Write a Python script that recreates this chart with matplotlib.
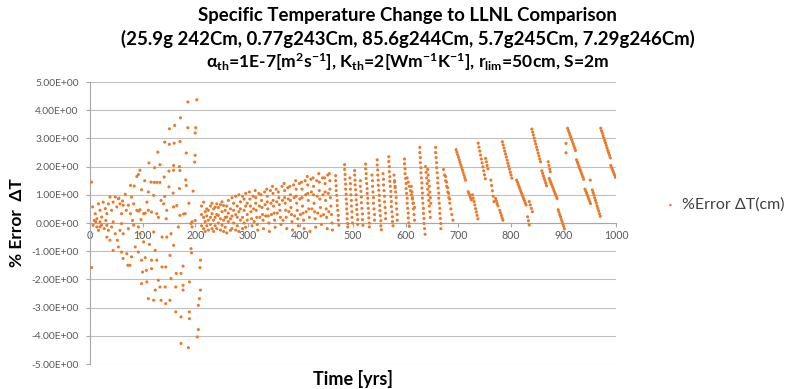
import matplotlib
matplotlib.use("Agg")
import matplotlib.pyplot as plt
from matplotlib.ticker import FuncFormatter, MultipleLocator
import numpy as np

# ---- data: (time [yrs], % error dT) ----

# 0-210 yrs, wide scatter
early = [
    (3, 1.45), (203, 4.37), (186, 4.29), (172, 3.73), (161, 3.46), (151, 3.34), (160, 2.83),
    (151, 2.79), (142, 2.87), (171, 2.89), (201, 3.38), (200, 3.19), (186, 3.38), (129, 2.51),
    (183, 2.48), (200, 2.40), (199, 2.16), (112, 2.13), (123, 1.96), (133, 2.07), (150, 1.84),
    (159, 1.87), (170, 2.0), (171, 1.86), (159, 2.04), (89, 1.65), (92, 1.72), (95, 1.87),
    (104, 1.5), (116, 1.45), (122, 1.44), (127, 1.44), (133, 1.44), (141, 1.63), (150, 1.28),
    (158, 1.06), (170, 1.22), (182, 1.53), (183, 1.33), (196, 1.13), (77, 1.33), (84, 1.31),
    (67, 1.02), (79, 0.92), (98, 1.18), (111, 1.1), (121, 0.98), (142, 0.94),
    (55, 0.88), (62, 0.78), (108, 0.74), (135, 0.8), (165, 0.62), (188, 0.7), (130, 0.2),
    (145, 0.15), (178, 0.32), (105, 0.35), (92, 0.42),
    (3, -1.58), (200, 0.09), (192, -0.02), (194, -0.14), (192, -0.91), (193, -1.06), (210, -1.32),
    (209, -1.58), (210, -2.38), (208, -2.68), (206, -2.92), (206, -3.78), (204, -4.04),
    (187, -4.42), (173, -4.27), (173, -3.33), (189, -3.39), (189, -3.15), (163, -3.15),
    (177, -2.38), (177, -2.21), (163, -2.27), (164, -1.79), (177, -1.53), (189, -2.09),
    (173, -1.79), (154, -1.97), (143, -2.27), (135, -2.74), (144, -2.86), (152, -2.74),
    (133, -2.27), (121, -2.74), (111, -2.68), (124, -2.38), (130, -2.03), (144, -1.56),
    (137, -1.56), (117, -1.62), (107, -1.68), (108, -2.09), (98, -2.15), (100, -1.74),
    (117, -1.32), (127, -1.32), (152, -1.15), (124, -0.97), (113, -0.76), (105, -1.23),
    (98, -1.32), (92, -1.03), (86, -0.85), (79, -1.2), (76, -1.5), (72, -1.5), (70, -1.09),
    (63, -1.26), (60, -1.03), (54, -0.85), (52, -0.61), (44, -0.97), (38, -0.61), (32, -0.5),
    (102, -0.67), (121, -0.32), (137, -0.5), (159, -0.79), (168, -0.14), (146, -0.5), (154, -0.38),
    (5, 0.57), (10, 0.33), (13, 0.15), (16, 0.68), (19, 0.45), (22, 0.21), (25, 0.74), (29, 0.51),
    (32, 0.33), (35, 0.68), (38, 0.92), (41, 0.45), (44, 0.74), (48, 0.92), (51, 0.57), (54, 0.86),
    (57, 0.68), (60, 0.33), (63, 0.63), (69, 0.45), (73, 0.63), (77, 0.33), (83, 0.68), (89, 0.45),
    (95, 0.47), (102, 0.33), (111, 0.45), (117, 0.39), (127, 0.33), (140, 0.68), (146, 0.45),
    (159, 0.57), (171, 0.27), (181, 0.33), (194, 0.04),
    (6, -0.08), (13, -0.14), (16, -0.26), (19, -0.14), (22, -0.08), (27, -0.2), (32, -0.08),
    (35, -0.26), (41, -0.14), (48, -0.38), (57, -0.26), (63, -0.38), (73, -0.2), (83, -0.08),
    (92, -0.14), (95, -0.38),
    (8, 0.09), (11, 0.04), (19, 0.04), (30, 0.09), (44, 0.04), (60, -0.02), (81, 0.09), (97, 0.12),
]

# 210-300 yrs, narrow band
middle = [
    (212, 0.3), (212, -0.1), (212, 0.6), (216, 0.74), (216, 0.2), (216, -0.2),
    (219, 0.4), (219, 0.05), (219, -0.3), (222, 0.25), (222, 0.5), (222, -0.1),
    (225, 0.45), (225, 0.1), (225, -0.25), (229, 0.2), (229, 0.6), (229, -0.05),
    (232, 0.33), (232, -0.2), (232, 0.7), (235, 0.1), (235, 0.5), (235, -0.3),
    (238, 0.56), (238, 0.2), (238, -0.1), (241, 0.68), (241, 0.3), (241, -0.2),
    (244, 0.27), (244, 0.0), (244, 0.55), (248, 0.15), (248, 0.65), (248, -0.25),
    (251, -0.08), (251, 0.4), (251, 0.75), (254, 0.62), (254, 0.1), (254, -0.3),
    (257, 0.45), (257, 0.2), (257, -0.15), (260, 0.21), (260, 0.6), (260, -0.35),
    (263, 0.8), (263, 0.05), (263, 0.35), (267, -0.26), (267, 0.5), (267, 0.15),
    (270, 0.9), (270, 0.25), (270, -0.2), (273, 0.7), (273, 0.0), (273, 0.45),
    (277, 0.95), (277, 0.3), (277, -0.25), (280, 0.6), (280, -0.1), (280, 0.2),
    (283, 1.0), (283, 0.4), (283, -0.3), (286, 0.75), (286, 0.1), (286, 0.5),
    (290, 0.95), (290, 0.2), (290, -0.2), (293, 0.85), (293, 0.45), (293, 0.0),
    (296, 1.05), (296, 0.6), (296, -0.15), (299, 0.7), (299, 0.3), (299, 0.1),
]

# 300-460 yrs, dotted columns
columns = [
    (303, 1.1), (304, 0.85), (305, 0.6), (306, 0.4), (307, 0.15), (308, -0.1),
    (314, 1.15), (315, 0.9), (315, 0.7), (316, 0.45), (317, 0.2), (318, -0.05), (319, -0.25),
    (325, 1.0), (326, 0.8), (327, 0.55), (328, 0.3), (329, 0.1), (330, -0.2),
    (336, 1.2), (337, 0.95), (337, 0.75), (338, 0.5), (339, 0.25), (340, 0.0), (341, -0.3),
    (347, 1.3), (348, 1.05), (348, 0.8), (349, 0.6), (350, 0.35), (351, 0.1), (352, -0.15),
    (358, 1.1), (359, 0.9), (360, 0.65), (361, 0.45), (362, 0.2), (363, -0.05),
    (369, 1.4), (370, 1.15), (370, 0.9), (371, 0.7), (372, 0.45), (373, 0.2), (374, -0.2),
    (380, 1.3), (381, 1.0), (381, 0.8), (382, 0.55), (383, 0.3), (384, 0.05), (385, -0.25),
    (391, 1.5), (392, 1.2), (392, 0.95), (393, 0.7), (394, 0.45), (395, 0.15), (396, -0.1),
    (402, 1.45), (403, 1.2), (403, 0.9), (404, 0.6), (405, 0.35), (406, 0.1), (407, -0.2),
    (413, 1.65), (414, 1.35), (414, 1.05), (415, 0.8), (416, 0.5), (417, 0.2), (418, -0.3),
    (424, 1.6), (425, 1.3), (425, 1.0), (426, 0.7), (427, 0.4), (428, 0.15), (429, -0.15),
    (435, 1.75), (436, 1.45), (436, 1.15), (437, 0.85), (438, 0.55), (439, 0.25), (440, -0.05),
    (446, 1.6), (447, 1.4), (447, 1.1), (448, 0.8), (449, 0.5), (450, 0.2), (451, -0.2),
    (455, 1.75), (456, 1.5), (456, 1.2), (457, 0.9), (458, 0.6), (459, 0.3), (460, 0.0), (461, -0.25),
    (310, 0.95), (311, 0.5), (312, 0.05), (321, 1.05), (322, 0.6), (323, 0.2),
    (332, 1.1), (333, 0.65), (334, 0.25), (343, 1.15), (344, 0.7), (345, 0.3),
    (354, 1.2), (355, 0.75), (356, 0.35), (365, 1.3), (366, 0.8), (367, 0.1),
    (376, 1.25), (377, 0.85), (378, 0.4), (387, 1.35), (388, 0.9), (389, 0.25),
    (398, 1.4), (399, 0.85), (400, 0.3), (409, 1.5), (410, 1.0), (411, 0.4),
    (420, 1.55), (421, 1.1), (422, 0.5), (431, 1.5), (432, 0.95), (433, 0.35),
    (442, 1.6), (443, 1.0), (444, 0.3), (452, 1.7), (453, 1.05), (454, 0.4),
]

# 465-700 yrs, steep streaks
steep = [
    (467, 1.68), (467, 1.5), (468, 1.32), (468, 1.15), (469, 0.98), (470, 0.8), (470, 0.62),
    (471, 0.45), (472, 0.27), (472, 0.1), (473, -0.08),
    (484, 2.07), (484, 1.9), (485, 1.72), (485, 1.55), (486, 1.38), (486, 1.2), (487, 1.02),
    (487, 0.85), (488, 0.68), (488, 0.5), (489, 0.33), (489, 0.15), (490, -0.02), (490, -0.14),
    (494, 1.6), (495, 1.4), (495, 1.2), (496, 1.0), (497, 0.8), (497, 0.6), (498, 0.4), (498, 0.2), (499, 0.0),
    (503, 1.86), (503, 1.7), (504, 1.52), (504, 1.35), (505, 1.18), (506, 1.0), (506, 0.82),
    (507, 0.65), (507, 0.48), (508, 0.3), (509, 0.12), (509, -0.05),
    (514, 1.5), (514, 1.3), (515, 1.12), (516, 0.92), (516, 0.72), (517, 0.52), (518, 0.32), (518, 0.12), (519, -0.08),
    (524, 2.09), (524, 1.92), (525, 1.75), (525, 1.58), (526, 1.4), (527, 1.22), (527, 1.05),
    (528, 0.88), (528, 0.7), (529, 0.52), (530, 0.35), (530, 0.18), (531, 0.0), (531, -0.14),
    (536, 1.7), (537, 1.5), (537, 1.3), (538, 1.1), (539, 0.9), (539, 0.7), (540, 0.5), (541, 0.3), (541, 0.1),
    (546, 2.24), (546, 2.06), (547, 1.88), (547, 1.7), (548, 1.52), (548, 1.34), (549, 1.16),
    (550, 0.98), (550, 0.8), (551, 0.62), (551, 0.44), (552, 0.26), (553, 0.08), (553, -0.1), (554, -0.24),
    (557, 1.75), (558, 1.55), (558, 1.35), (559, 1.15), (560, 0.95), (560, 0.75), (561, 0.55), (562, 0.35), (562, 0.15),
    (568, 2.35), (568, 2.18), (569, 2.0), (569, 1.82), (570, 1.64), (570, 1.48), (571, 1.3),
    (572, 1.12), (572, 0.94), (573, 0.76), (573, 0.58), (574, 0.4), (575, 0.22), (575, 0.05), (576, -0.1),
    (578, 1.7), (579, 1.5), (579, 1.45), (580, 1.3), (580, 1.25), (581, 1.1), (582, 0.9),
    (582, 0.7), (583, 0.5), (584, 0.3), (584, 0.1),
    (598, 2.27), (598, 2.1), (599, 1.92), (599, 1.75), (600, 1.58), (601, 1.4), (601, 1.22),
    (602, 1.05), (603, 0.88), (603, 0.7), (604, 0.52), (605, 0.35), (605, 0.18), (606, 0.0), (607, -0.12),
    (603, 1.6), (605, 1.45), (607, 1.3), (609, 1.15), (611, 1.0), (613, 0.85), (615, 0.7), (617, 0.55),
    (611, 1.3), (612, 1.1), (613, 0.9), (614, 0.7), (615, 0.5), (616, 0.3), (617, 0.1),
    (627, 2.68), (627, 2.5), (628, 2.32), (628, 2.14), (629, 1.96), (629, 1.78), (630, 1.6),
    (631, 1.42), (631, 1.24), (632, 1.06), (632, 0.88), (633, 0.7), (634, 0.52), (634, 0.34),
    (635, 0.16), (635, -0.02), (636, -0.2), (637, -0.4),
    (638, 2.0), (639, 1.8), (640, 1.6), (641, 1.4), (642, 1.2), (643, 1.0), (644, 0.8),
    (645, 0.6), (646, 0.4), (647, 0.2),
    (642, 1.9), (643, 1.7), (644, 1.5), (645, 1.3), (646, 1.1), (647, 0.9), (648, 0.7),
    (657, 2.68), (657, 2.5), (658, 2.32), (659, 2.14), (659, 1.96), (660, 1.78), (661, 1.6),
    (661, 1.42), (662, 1.24), (663, 1.06), (663, 0.88), (664, 0.7), (665, 0.52), (665, 0.34),
    (666, 0.16), (667, -0.02), (667, -0.2),
    (672, 1.9), (674, 1.7), (676, 1.5), (678, 1.3), (680, 1.1), (682, 0.9), (684, 0.7),
    (686, 0.5), (688, 0.3), (690, 0.1),
    (676, 1.65), (678, 1.45), (680, 1.25), (682, 1.05), (684, 0.85),
]

# 695-1000 yrs, long diagonal streaks
diagonal = [
    (696, 2.60), (697.5, 2.51), (699, 2.42), (700.5, 2.33), (702, 2.24), (703.5, 2.15),
    (705, 2.06), (706.5, 1.97), (708, 1.88), (709.5, 1.79), (711, 1.70), (712.5, 1.61), (714, 1.52),
    (719, 1.11), (720.5, 1.04), (722, 0.97), (723.5, 0.89), (725, 0.82),
    (727, 1.00), (728.5, 0.88), (730, 0.76), (731.5, 0.64), (733, 0.51), (734.5, 0.39),
    (736, 0.27), (737.5, 0.15),
    (738, 2.83), (739.5, 2.69), (741, 2.55), (742.5, 2.41), (744, 2.27), (745.5, 2.13),
    (747, 1.99), (748.5, 1.85), (750, 1.71), (751.5, 1.57),
    (752, 2.29), (753.5, 2.17), (755, 2.04), (756.5, 1.92),
    (762, 1.52), (763.5, 1.33), (765, 1.14), (766.5, 0.95), (768, 0.76),
    (771, 0.87), (772.5, 0.78), (774, 0.69), (775.5, 0.61), (779, 0.45), (780.5, 0.36),
    (782, 0.27), (783.5, 0.18), (785, 0.10),
    (784, 2.88), (785.5, 2.77), (787, 2.66), (788.5, 2.55), (790, 2.45), (791.5, 2.34),
    (793, 2.23), (794.5, 2.12), (796, 2.02), (797.5, 1.91), (799, 1.80), (800.5, 1.70), (802, 1.59),
    (811, 1.52), (812.5, 1.45), (814, 1.37), (815.5, 1.30), (817, 1.23), (818.5, 1.15),
    (820, 1.08), (821.5, 1.01), (823, 0.93), (824.5, 0.86), (826, 0.79), (827.5, 0.71), (829, 0.64),
    (832, 0.22), (833.5, 0.08), (835, -0.07),
    (835, 0.76), (837, 0.64), (839, 0.52), (841, 0.40),
    (840, 3.33), (841.5, 3.22), (843, 3.12), (844.5, 3.01), (846, 2.90), (847.5, 2.80),
    (849, 2.69), (850.5, 2.59), (852, 2.48), (853.5, 2.38), (855, 2.27), (856.5, 2.17),
    (859, 1.85), (860.5, 1.76), (862, 1.67), (863.5, 1.58), (865, 1.50), (866.5, 1.41), (868, 1.32),
    (871, 2.17), (872.5, 2.04), (874, 1.91), (875, 1.82),
    (873, 1.58), (874.5, 1.51), (876, 1.44), (877.5, 1.37), (879, 1.30), (880.5, 1.23),
    (882, 1.15), (883.5, 1.08), (885, 1.01), (886.5, 0.94), (888, 0.87),
    (890, 0.47), (891.5, 0.39), (893, 0.30), (894.5, 0.22), (896, 0.13), (897.5, 0.05),
    (899, -0.04), (900.5, -0.12), (902, -0.21),
    (905, 2.82), (905, 2.49),
    (908, 3.36), (909.5, 3.28), (911, 3.20), (912.5, 3.12), (914, 3.05), (915.5, 2.97),
    (917, 2.89), (918.5, 2.81), (920, 2.73), (921.5, 2.65), (923, 2.57),
    (925, 2.24), (926.5, 2.16), (928, 2.09), (929.5, 2.01), (931, 1.93), (932.5, 1.86),
    (934, 1.78), (935.5, 1.70), (937, 1.63), (938.5, 1.55),
    (941, 1.20), (942.5, 1.13), (944, 1.06), (945.5, 0.99), (947, 0.91), (948.5, 0.84),
    (950, 0.76), (951.5, 0.69),
    (951, 1.52),
    (955, 1.17), (956.5, 1.08), (958, 0.99), (959.5, 0.89), (961, 0.80), (962.5, 0.71),
    (964, 0.61), (965.5, 0.52), (967, 0.43), (968.5, 0.33), (970, 0.24),
    (971, 3.36), (972.5, 3.27), (974, 3.19), (975.5, 3.10), (977, 3.01), (978.5, 2.92),
    (980, 2.84), (981.5, 2.75), (983, 2.66), (984.5, 2.57), (986, 2.49), (987.5, 2.40), (989, 2.31),
    (990, 2.04), (991.5, 1.97), (993, 1.90), (994.5, 1.83), (996, 1.76), (997.5, 1.69), (999, 1.62),
]

series_label = "%Error \u0394T(cm)"
title_lines = [
    "Specific Temperature Change to LLNL Comparison",
    "(25.9g 242Cm, 0.77g243Cm, 85.6g244Cm, 5.7g245Cm, 7.29g246Cm)",
    r"$\alpha_{th}$=1E-7[m$^{2}$s$^{-1}$], K$_{th}$=2[Wm$^{-1}$K$^{-1}$], r$_{lim}$=50cm, S=2m",
]

plt.rcParams["font.family"] = ["Lato", "DejaVu Sans"]
plt.rcParams["mathtext.fontset"] = "custom"
plt.rcParams["mathtext.rm"] = "Lato:bold"
plt.rcParams["mathtext.it"] = "Lato:bold"
plt.rcParams["mathtext.bf"] = "Lato:bold"
plt.rcParams["mathtext.fallback"] = "stixsans"

pts = np.array(early + middle + columns + steep + diagonal)
t_yrs = pts[:, 0]
err = pts[:, 1]

fig = plt.figure(figsize=(8.06, 3.89), dpi=100)
ax = fig.add_axes([90 / 806, 1 - 364 / 389, 526 / 806, 282 / 389])

orange = "#E97A2C"
grid_c = "#BFBFBF"
txt_c = "#595959"

ax.scatter(t_yrs, err, s=5, color=orange, edgecolors="none", label=series_label, zorder=3)

ax.set_xlim(0, 1000)
ax.set_ylim(-5, 5)
ax.xaxis.set_major_locator(MultipleLocator(100))
ax.yaxis.set_major_locator(MultipleLocator(1))
ax.yaxis.set_major_formatter(FuncFormatter(lambda v, p: "{:.2E}".format(v)))
ax.grid(axis="y", color=grid_c, linewidth=0.8)
ax.set_axisbelow(True)

for s in ["top", "right"]:
    ax.spines[s].set_visible(False)
ax.spines["bottom"].set_position(("data", 0))
ax.spines["bottom"].set_color("#A6A6A6")
ax.spines["left"].set_color("#A6A6A6")
ax.tick_params(axis="both", colors="#A6A6A6", length=3, width=0.8, labelcolor=txt_c)
ax.tick_params(axis="y", labelsize=7.4, pad=5)
ax.tick_params(axis="x", labelsize=7.6, pad=2)

ax.set_xlabel("Time [yrs]", fontsize=13, fontweight="bold")
ax.xaxis.set_label_coords(0.5, -0.053)
ax.xaxis.label.set_va("center")
ax.set_ylabel("% Error  \u0394T", fontsize=12.5, fontweight="bold")
ax.yaxis.set_label_coords(-0.138, 0.5)
ax.yaxis.label.set_va("center")

title_y = [16, 39, 62]
title_fs = [13.4, 13.4, 12.6]
for line, yp, fs in zip(title_lines, title_y, title_fs):
    fig.text(0.506, 1 - yp / 389, line, ha="center", va="center",
             fontsize=fs, fontweight="bold")

ax.legend(loc="center left", bbox_to_anchor=(664 / 806, 1 - 205 / 389),
          bbox_transform=fig.transFigure, frameon=False, fontsize=11.5,
          handlelength=0.8, handletextpad=0.3, borderaxespad=0, borderpad=0,
          markerscale=0.8, labelcolor="#404040")

fig.savefig("out.png", dpi=100)
